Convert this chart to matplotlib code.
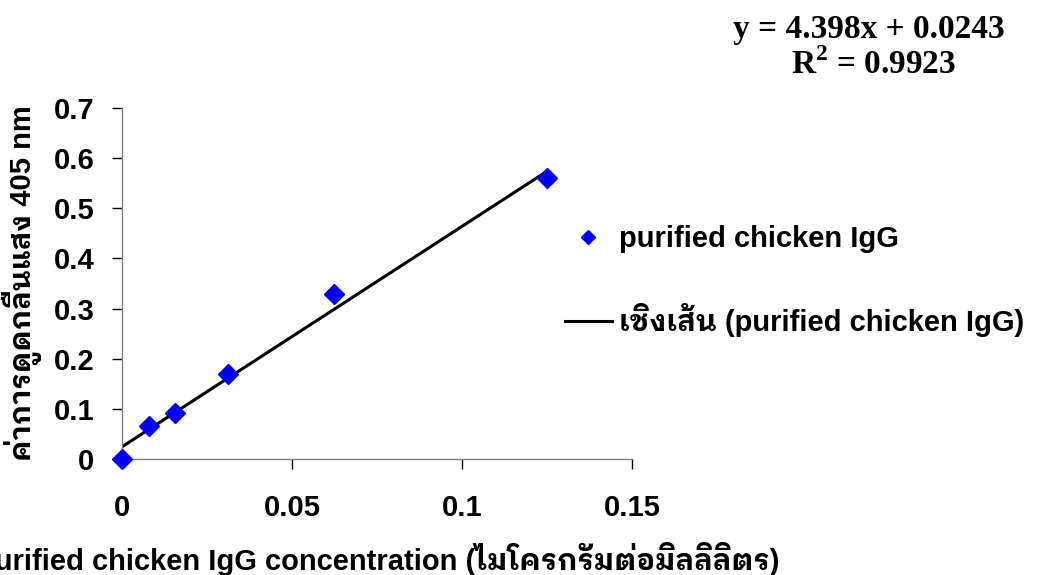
import matplotlib
matplotlib.use("Agg")
import matplotlib.pyplot as plt
import numpy as np

# data
conc = [0, 0.0078125, 0.015625, 0.03125, 0.0625, 0.125]
absorb = [0.0, 0.066, 0.092, 0.17, 0.33, 0.56]
slope, intercept = 4.398, 0.0243
x_ticks = [0, 0.05, 0.1, 0.15]
x_tick_labels = ['0', '0.05', '0.1', '0.15']
y_ticks = [0, 0.1, 0.2, 0.3, 0.4, 0.5, 0.6, 0.7]
y_tick_labels = ['0', '0.1', '0.2', '0.3', '0.4', '0.5', '0.6', '0.7']
series_name = 'purified chicken IgG'
fit_name = 'เชิงเส้น (purified chicken IgG)'
x_label = 'purified chicken IgG concentration (ไมโครกรัมต่อมิลลิลิตร)'
y_label = 'ค่าการดูดกลืนแสง 405 nm'

# Latin in Arial-like font, Thai falls through to a looped Thai font with bold
plt.rcParams['font.family'] = ['Liberation Sans', 'IBM Plex Sans Thai Looped',
                               'Noto Sans Thai Looped', 'DejaVu Sans']
plt.rcParams['mathtext.fontset'] = 'custom'
plt.rcParams['mathtext.bf'] = 'Liberation Serif:bold'
plt.rcParams['mathtext.rm'] = 'Liberation Serif:bold'

fig = plt.figure(figsize=(10.37, 5.75), dpi=100)
ax = fig.add_axes([0.1176, 0.2017, 0.4919, 0.6103])

xs = np.array([0, max(conc)])
ax.plot(xs, slope * xs + intercept, color='black', lw=2.2, label=fit_name, zorder=2)
ax.plot(conc, absorb, linestyle='none', marker='D', color='#0000FF', ms=10.5,
        label=series_name, clip_on=False, zorder=3)

ax.set_xlim(0, 0.15)
ax.set_ylim(0, 0.7)
ax.set_xticks(x_ticks)
ax.set_xticklabels(x_tick_labels)
ax.set_yticks(y_ticks)
ax.set_yticklabels(y_tick_labels)
for s in ['top', 'right']:
    ax.spines[s].set_visible(False)
for s in ['left', 'bottom']:
    ax.spines[s].set_color('#808080')
    ax.spines[s].set_linewidth(1.0)
ax.tick_params(direction='out', length=7, color='black', width=1, labelsize=21)
ax.tick_params(axis='x', pad=18)
ax.tick_params(axis='y', pad=13)
for t in ax.get_xticklabels() + ax.get_yticklabels():
    t.set_fontweight('bold')

ax.set_xlabel(x_label, fontsize=21, fontweight='bold')
ax.set_ylabel(y_label, fontsize=21, fontweight='bold')
ax.xaxis.set_label_coords(0.503, -0.236)
ax.yaxis.set_label_coords(-0.157, 0.5)

handles, labels = ax.get_legend_handles_labels()
leg = fig.legend(handles[::-1], labels[::-1], loc='upper left',
                 bbox_to_anchor=(0.545, 0.609), frameon=False,
                 prop={'size': 21, 'weight': 'bold'}, labelspacing=1.72,
                 handlelength=1.6, handletextpad=0.25, borderpad=0,
                 borderaxespad=0, markerscale=0.65)

fig.text(0.838, 0.948, 'y = 4.398x + 0.0243', ha='center', va='center',
         family='Liberation Serif', fontweight='bold', fontsize=24)
fig.text(0.842, 0.887, r'R$^{\mathbf{2}}$ = 0.9923', ha='center', va='center',
         family='Liberation Serif', fontweight='bold', fontsize=24)

fig.savefig('out.png', dpi=100)
